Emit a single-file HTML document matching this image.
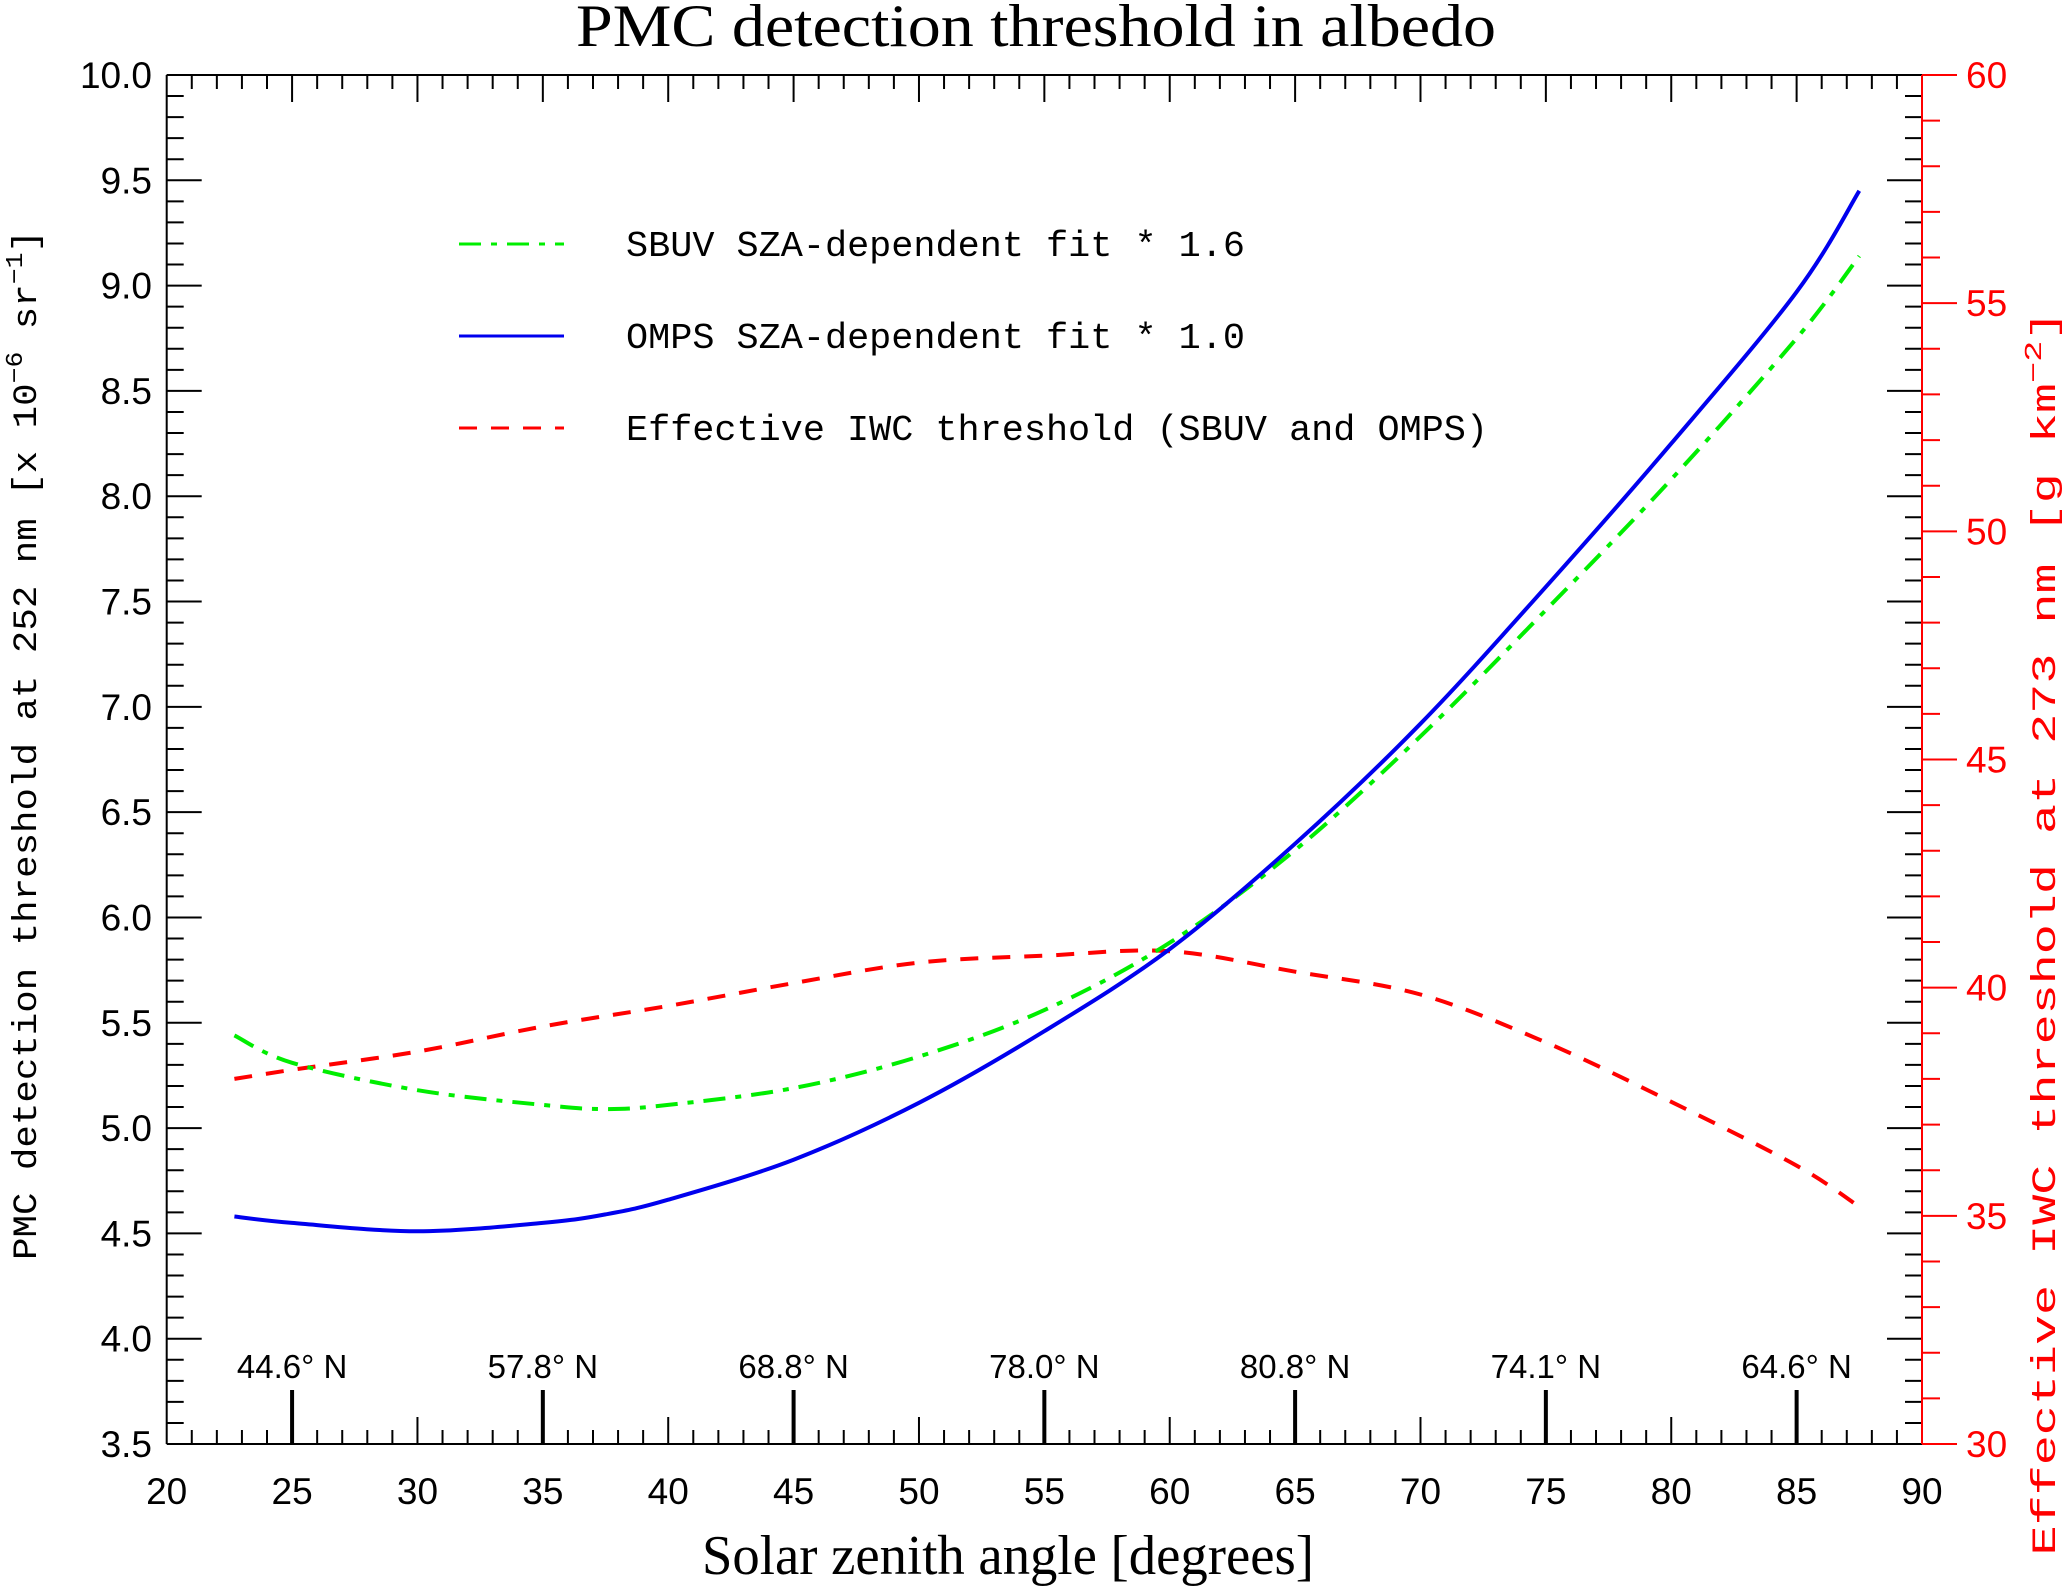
<!DOCTYPE html>
<html><head><meta charset="utf-8"><style>
html,body{margin:0;padding:0;background:#fff;}
svg{display:block;}
</style></head><body>
<svg id="chart" width="2067" height="1587" viewBox="0 0 2067 1587" xmlns="http://www.w3.org/2000/svg">
<text x="1036" y="46" text-anchor="middle" font-family="Liberation Serif, serif" font-size="60" textLength="920" lengthAdjust="spacingAndGlyphs">PMC detection threshold in albedo</text>
<text x="1008" y="1574" text-anchor="middle" font-family="Liberation Serif, serif" font-size="56" textLength="612" lengthAdjust="spacingAndGlyphs">Solar zenith angle [degrees]</text>
<text transform="translate(36,745) rotate(-90)" text-anchor="middle" font-family="Liberation Mono, monospace" font-size="34" textLength="1030" lengthAdjust="spacingAndGlyphs">PMC detection threshold at 252 nm [x 10<tspan dy="-14" font-size="24">−6</tspan><tspan dy="14"> sr</tspan><tspan dy="-14" font-size="24">−1</tspan><tspan dy="14">]</tspan></text>
<text transform="translate(2055,933) rotate(-90)" text-anchor="middle" fill="#ff0000" font-family="Liberation Mono, monospace" font-size="34" textLength="1245" lengthAdjust="spacingAndGlyphs">Effective IWC threshold at 273 nm [g km<tspan dy="-14" font-size="24">−2</tspan><tspan dy="14">]</tspan></text>
<g id="axes"></g>
<g id="series"></g>
<g id="legend"></g>
</svg>
<script>
const sza = [22.7, 25, 30, 35, 37.5, 40, 45, 50, 55, 60, 65, 70, 75, 80, 85, 87.5];
const ompsFit = [4.58, 4.55, 4.51, 4.55, 4.59, 4.66, 4.85, 5.12, 5.46, 5.85, 6.35, 6.92, 7.57, 8.25, 8.97, 9.45];
const sbuvFit = [5.44, 5.31, 5.18, 5.11, 5.09, 5.11, 5.19, 5.34, 5.56, 5.88, 6.32, 6.86, 7.46, 8.08, 8.75, 9.14];
const iwcSza = [22.7, 25, 30, 35, 40, 45, 50, 55, 60, 65, 70, 75, 80, 85, 87.5];
const iwcThresh = [38.0, 38.2, 38.6, 39.15, 39.6, 40.1, 40.55, 40.7, 40.8, 40.35, 39.85, 38.8, 37.5, 36.1, 35.2];
const xTicks = [20, 25, 30, 35, 40, 45, 50, 55, 60, 65, 70, 75, 80, 85, 90];
const yTicks = ["3.5","4.0","4.5","5.0","5.5","6.0","6.5","7.0","7.5","8.0","8.5","9.0","9.5","10.0"];
const y2Ticks = [30, 35, 40, 45, 50, 55, 60];
const latPos = [25, 35, 45, 55, 65, 75, 85];
const latLabels = ["44.6° N","57.8° N","68.8° N","78.0° N","80.8° N","74.1° N","64.6° N"];

const L=166.7,R=1922,T=75,B=1444;
const X=v=>L+(v-20)*(R-L)/70;
const Y=v=>B-(v-3.5)*(B-T)/6.5;
const Y2=v=>B-(v-30)*(B-T)/30;
const NS="http://www.w3.org/2000/svg";
function mk(tag,parent){const e=document.createElementNS(NS,tag);parent.appendChild(e);return e;}
const ax=document.getElementById('axes');
function line(x1,y1,x2,y2,c,w,name){const e=mk('line',ax);e.setAttribute('x1',x1);e.setAttribute('y1',y1);e.setAttribute('x2',x2);e.setAttribute('y2',y2);e.setAttribute('stroke',c);e.setAttribute('stroke-width',w);


return e;}
function txt(x,y,s,anchor,fill,size,name){const e=mk('text',ax);e.setAttribute('x',x);e.setAttribute('y',y);e.setAttribute('text-anchor',anchor);e.setAttribute('fill',fill);e.setAttribute('font-family','Liberation Sans, sans-serif');e.setAttribute('font-size',size);e.textContent=s;


return e;}
line(L,T,R,T,'#000',2,'top-axis');
line(L,B,R,B,'#000',2,'x-axis');
line(L,T,L,B,'#000',2,'y-axis');
for(let v=20;v<=90;v++){
  const maj=v%5===0; const len=maj?27:14;
  if(v>20&&v<90){
    line(X(v),B,X(v),B-len,'#000',2,'x-tick');
    line(X(v),T,X(v),T+len,'#000',2,'top-tick');
  }
}
xTicks.forEach(v=>txt(X(v),1504,String(v),'middle','#000',37,'x-tick-label'));
for(let i=36;i<=100;i++){
  const v=i/10; const maj=i%5===0; const len=maj?35:17;
  line(L,Y(v),L+len,Y(v),'#000',2,'y-tick');
  line(R,Y(v),R-len,Y(v),'#000',2,'right-inner-tick');
}
yTicks.forEach(s=>txt(152,Y(parseFloat(s))+13,s,'end','#000',37,'y-tick-label'));
line(R,T,R,B,'#ff0000',2,'right-y-axis');
for(let v=30;v<=60;v++){
  const maj=v%5===0;
  line(R,Y2(v),R+(maj?35:18),Y2(v),'#ff0000',2,'right-y-tick');
}
y2Ticks.forEach(v=>txt(1966,Y2(v)+13,String(v),'start','#ff0000',37,'right-y-tick-label'));
latPos.forEach((v,i)=>{
  line(X(v),B,X(v),B-54,'#000',4,'latitude-tick');
  txt(X(v),1378,latLabels[i],'middle','#000',33,'latitude-label');
});
const sg=document.getElementById('series');
function path(xs,ys,yf,color,dash,name,smooth){
  const p=xs.map((x,i)=>[X(x),yf(ys[i])]);
  let d='M'+p[0][0].toFixed(1)+','+p[0][1].toFixed(1);
  for(let i=0;i<p.length-1;i++){
    if(!smooth){d+=' L'+p[i+1][0].toFixed(1)+','+p[i+1][1].toFixed(1);continue;}
    const p0=p[Math.max(0,i-1)],p1=p[i],p2=p[i+1],p3=p[Math.min(p.length-1,i+2)];
    const c1=[p1[0]+(p2[0]-p0[0])/6,p1[1]+(p2[1]-p0[1])/6];
    const c2=[p2[0]-(p3[0]-p1[0])/6,p2[1]-(p3[1]-p1[1])/6];
    d+=' C'+c1[0].toFixed(1)+','+c1[1].toFixed(1)+' '+c2[0].toFixed(1)+','+c2[1].toFixed(1)+' '+p2[0].toFixed(1)+','+p2[1].toFixed(1);
  }
  const e=mk('path',sg);
  e.setAttribute('d',d);
  e.setAttribute('fill','none');e.setAttribute('stroke',color);e.setAttribute('stroke-width',4);
  e.setAttribute('stroke-linejoin','round');
  if(dash)e.setAttribute('stroke-dasharray',dash);
  
  
}
path(iwcSza,iwcThresh,Y2,'#ff0000','18 14','iwc-threshold-line',true);
path(sza,sbuvFit,Y,'#00ee00','22 10 6 10','sbuv-fit-line',true);
path(sza,ompsFit,Y,'#0000ee',null,'omps-fit-line',true);
const lg=document.getElementById('legend');
const leg=[["SBUV SZA-dependent fit * 1.6","#00ee00","22 10 6 10",244],["OMPS SZA-dependent fit * 1.0","#0000ee",null,336],["Effective IWC threshold (SBUV and OMPS)","#ff0000","18 14",428]];
leg.forEach(d=>{
  const l=mk('line',lg);l.setAttribute('x1',459);l.setAttribute('x2',564);l.setAttribute('y1',d[3]);l.setAttribute('y2',d[3]);
  l.setAttribute('stroke',d[1]);l.setAttribute('stroke-width',3);if(d[2])l.setAttribute('stroke-dasharray',d[2]);
  
  
  const t=mk('text',lg);t.setAttribute('x',626);t.setAttribute('y',d[3]+12);t.setAttribute('font-family','Liberation Mono, monospace');t.setAttribute('font-size',36);
  t.setAttribute('textLength',(d[0].length*22.1).toFixed(0));t.setAttribute('lengthAdjust','spacingAndGlyphs');
  t.textContent=d[0];
  
  
});
</script>
</body></html>
